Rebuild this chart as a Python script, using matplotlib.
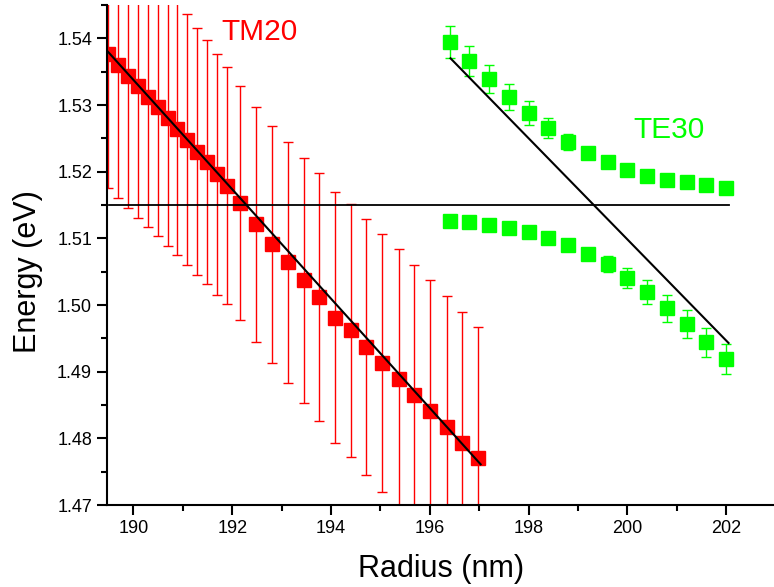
import matplotlib
matplotlib.use("Agg")
import matplotlib.pyplot as plt
from matplotlib.ticker import MultipleLocator, FormatStrFormatter
import numpy as np

plt.rcParams['font.family'] = ['Liberation Sans', 'DejaVu Sans']

# TM20 branch (red)
tm_radius = [189.49, 189.68, 189.89, 190.10, 190.30, 190.50, 190.70, 190.89, 191.09,
             191.29, 191.49, 191.70, 191.90, 192.16, 192.48, 192.80, 193.12, 193.45,
             193.76, 194.08, 194.40, 194.71, 195.03, 195.37, 195.69, 196.01, 196.34,
             196.66, 196.98]
tm_energy = [1.5376, 1.5360, 1.5344, 1.5328, 1.5312, 1.5297, 1.5280, 1.5264, 1.5248,
             1.5230, 1.5214, 1.5196, 1.5179, 1.5153, 1.5121, 1.5091, 1.5064, 1.5037,
             1.5012, 1.4981, 1.4962, 1.4937, 1.4913, 1.4889, 1.4865, 1.4841, 1.4817,
             1.4793, 1.4770]
tm_err = [0.0201, 0.0199, 0.0198, 0.0197, 0.0195, 0.0194, 0.0192, 0.0189, 0.0188,
          0.0185, 0.0183, 0.0181, 0.0178, 0.0176, 0.0176, 0.0178, 0.0181, 0.0184,
          0.0186, 0.0188, 0.0190, 0.0192, 0.0194, 0.0195, 0.0195, 0.0196, 0.0196,
          0.0197, 0.0197]

# TE30 branches (green)
te_radius = [196.4, 196.8, 197.2, 197.6, 198.0, 198.4, 198.8, 199.2, 199.6, 200.0,
             200.4, 200.8, 201.2, 201.6, 202.0]
te_upper = [1.5394, 1.5366, 1.5339, 1.5312, 1.5288, 1.5265, 1.5245, 1.5228, 1.5214,
            1.5202, 1.5194, 1.5188, 1.5184, 1.5180, 1.5176]
te_upper_err = [0.0024, 0.0023, 0.0021, 0.0020, 0.0018, 0.0015, 0.0012, 0.0005,
                0.0005, 0.0004, 0.0004, 0.0004, 0.0003, 0.0003, 0.0003]
te_lower = [1.5126, 1.5124, 1.5120, 1.5115, 1.5109, 1.5100, 1.5090, 1.5077, 1.5061,
            1.5041, 1.5019, 1.4995, 1.4971, 1.4944, 1.4919]
te_lower_err = [0.0003, 0.0003, 0.0003, 0.0004, 0.0004, 0.0004, 0.0005, 0.0005,
                0.0012, 0.0015, 0.0018, 0.0020, 0.0021, 0.0022, 0.0023]

# straight guide lines
tm_fit_x = [189.47, 197.03]
tm_fit_y = [1.5381, 1.4761]
te_fit_x = [196.42, 202.05]
te_fit_y = [1.5370, 1.4943]
exciton_x = [189.5, 202.05]
exciton_y = [1.515, 1.515]

RED = '#ff0000'
GREEN = '#00ff00'

fig = plt.figure(figsize=(7.74, 5.87), dpi=100)
ax = fig.add_axes([107.3 / 774, 82 / 587, (774 - 107.3) / 774, 500 / 587])

ax.errorbar(tm_radius, tm_energy, yerr=tm_err, fmt='s', color=RED, ms=10,
            elinewidth=1.0, capsize=3.6, capthick=1.0, mec=RED, zorder=2)
ax.errorbar(te_radius, te_upper, yerr=te_upper_err, fmt='s', color=GREEN, ms=10,
            elinewidth=1.0, capsize=3.6, capthick=1.0, mec=GREEN, zorder=2)
ax.errorbar(te_radius, te_lower, yerr=te_lower_err, fmt='s', color=GREEN, ms=10,
            elinewidth=1.0, capsize=3.6, capthick=1.0, mec=GREEN, zorder=2)

ax.plot(tm_fit_x, tm_fit_y, color='black', lw=1.5, zorder=3)
ax.plot(te_fit_x, te_fit_y, color='black', lw=1.5, zorder=3)
ax.plot(exciton_x, exciton_y, color='black', lw=1.3, zorder=3)

ax.text(191.77, 1.541, 'TM20', color=RED, fontsize=21.5, va='center', ha='left')
ax.text(200.13, 1.5262, 'TE30', color=GREEN, fontsize=21.5, va='center', ha='left')

ax.set_xlim(189.47, 202.97)
ax.set_ylim(1.47, 1.545)

ax.xaxis.set_major_locator(MultipleLocator(2))
ax.xaxis.set_minor_locator(MultipleLocator(1))
ax.yaxis.set_major_locator(MultipleLocator(0.01))
ax.yaxis.set_minor_locator(MultipleLocator(0.005))
ax.yaxis.set_major_formatter(FormatStrFormatter('%.2f'))

ax.spines['top'].set_visible(False)
ax.spines['right'].set_visible(False)
ax.spines['left'].set_linewidth(1.5)
ax.spines['bottom'].set_linewidth(1.5)
ax.tick_params(which='major', direction='out', length=7, width=1.5, labelsize=13, pad=4)
ax.tick_params(which='minor', direction='out', length=4, width=1.5)

ax.set_xlabel('Radius (nm)', fontsize=22)
ax.set_ylabel('Energy (eV)', fontsize=22)
ax.yaxis.set_label_coords(-0.097, 0.466)
ax.xaxis.set_label_coords(0.5, -0.098)

fig.savefig('out.png', dpi=100)
